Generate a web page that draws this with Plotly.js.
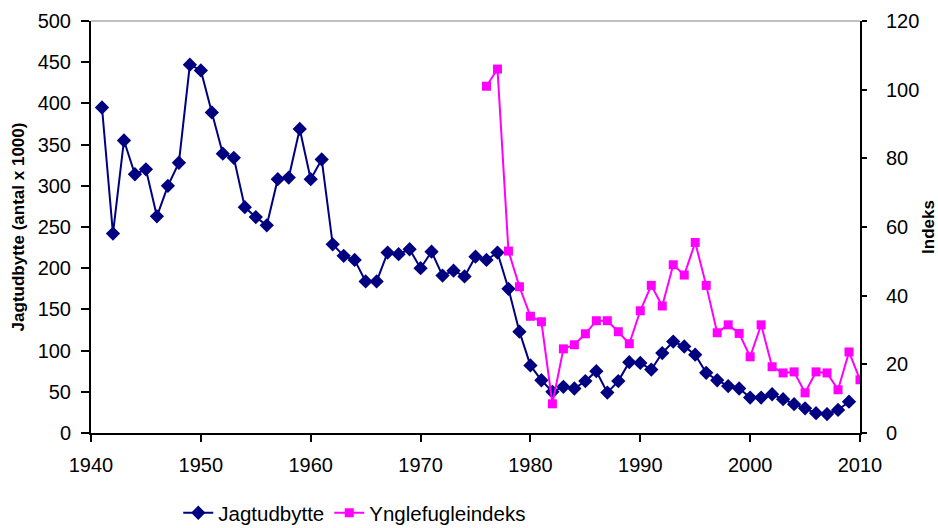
<!DOCTYPE html>
<html>
<head>
<meta charset="utf-8">
<script src="https://cdn.plot.ly/plotly-3.0.1.min.js"></script>
<style>html,body{margin:0;padding:0;background:#fff;}#chart{width:938px;height:528px;}</style>
</head>
<body>
<div id="chart"></div>
<script>
const jagtYears = [1941,1942,1943,1944,1945,1946,1947,1948,1949,1950,1951,1952,1953,1954,1955,1956,1957,1958,1959,1960,1961,1962,1963,1964,1965,1966,1967,1968,1969,1970,1971,1972,1973,1974,1975,1976,1977,1978,1979,1980,1981,1982,1983,1984,1985,1986,1987,1988,1989,1990,1991,1992,1993,1994,1995,1996,1997,1998,1999,2000,2001,2002,2003,2004,2005,2006,2007,2008,2009];
const jagtudbytte = [395,242,355,314,320,263,300,328,447,440,389,339,334,274,262,252,308,310,369,308,332,229,215,210,184,184,219,217,223,200,220,191,197,190,214,210,219,175,123,82,64,50,56,54,63,75,49,63,86,85,77,97,111,105,95,73,64,57,54,43,43,47,41,35,30,24,23,28,38];
const yngleYears = [1976,1977,1978,1979,1980,1981,1982,1983,1984,1985,1986,1987,1988,1989,1990,1991,1992,1993,1994,1995,1996,1997,1998,1999,2000,2001,2002,2003,2004,2005,2006,2007,2008,2009,2010];
const ynglefugleindeks = [101,106,53,42.6,34,32.4,8.5,24.5,25.7,28.9,32.7,32.7,29.5,26,35.6,43,37,49,46,55.5,43,29.2,31.5,29,22.2,31.5,19.3,17.5,17.8,11.7,17.8,17.5,12.6,23.6,15.5];
const names = ['Jagtudbytte','Ynglefugleindeks'];
const yTitle = 'Jagtudbytte (antal x 1000)';
const y2Title = 'Indeks';

const FONT = 'Liberation Sans, Arial, sans-serif';
const traces = [
  {x: jagtYears, y: jagtudbytte, name: names[0], type: 'scatter', mode: 'lines+markers',
   line: {color: '#000080', width: 2}, marker: {symbol: 'diamond', size: 11, color: '#000080'}, yaxis: 'y'},
  {x: yngleYears, y: ynglefugleindeks, name: names[1], type: 'scatter', mode: 'lines+markers',
   line: {color: '#FF00FF', width: 2}, marker: {symbol: 'square', size: 9, color: '#FF00FF'}, yaxis: 'y2'}
];
const layout = {
  width: 938, height: 528,
  margin: {l: 91, r: 78, t: 21, b: 95, autoexpand: false},
  paper_bgcolor: '#fff', plot_bgcolor: '#fff',
  font: {family: FONT, size: 20, color: '#000'},
  showlegend: true,
  legend: {orientation: 'h', x: 0.343, xanchor: 'center', y: -0.194, yanchor: 'middle',
           font: {family: FONT, size: 20.5, color: '#000'}, tracegroupgap: 0},
  xaxis: {range: [1940, 2010], dtick: 10, tick0: 1940, showgrid: false, zeroline: false,
          showline: true, linecolor: '#000', linewidth: 2, ticks: 'outside', ticklen: 7, tickwidth: 2,
          tickcolor: '#000', ticklabelstandoff: 6, tickfont: {family: FONT, size: 20}},
  yaxis: {range: [0, 500], dtick: 50, showgrid: false, zeroline: false,
          showline: true, linecolor: '#000', linewidth: 2, ticks: 'outside', ticklen: 8, tickwidth: 2,
          tickcolor: '#000', ticklabelstandoff: 6, tickfont: {family: FONT, size: 20},
          title: {text: yTitle, font: {family: FONT, size: 17, weight: 'bold'}, standoff: 9}},
  yaxis2: {range: [0, 120], dtick: 20, overlaying: 'y', side: 'right', showgrid: false, zeroline: false,
           showline: true, linecolor: '#000', linewidth: 2, ticks: 'outside', ticklen: 5, tickwidth: 2,
           tickcolor: '#000', ticklabelstandoff: 15, tickfont: {family: FONT, size: 20},
           title: {text: y2Title, font: {family: FONT, size: 17, weight: 'bold'}, standoff: 4}},
  shapes: [{type: 'line', xref: 'paper', yref: 'paper', x0: 0, x1: 1, y0: 1, y1: 1,
            line: {color: '#808080', width: 1}}]
};
Plotly.newPlot('chart', traces, layout, {displayModeBar: false, staticPlot: true});
</script>
</body>
</html>
